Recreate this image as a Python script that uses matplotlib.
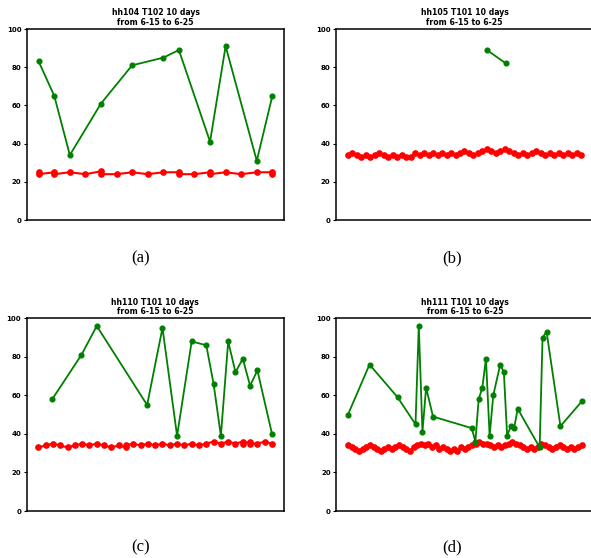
import matplotlib
matplotlib.use("Agg")
from matplotlib import pyplot as plt

# panel titles and captions
titles = ["hh104 T102 10 days\nfrom 6-15 to 6-25",
          "hh105 T101 10 days\nfrom 6-15 to 6-25",
          "hh110 T101 10 days\nfrom 6-15 to 6-25",
          "hh111 T101 10 days\nfrom 6-15 to 6-25"]
captions = ["(a)", "(b)", "(c)", "(d)"]

# (a) hh104
red_x_a = [0, 0, 1, 1, 2, 3, 4, 4, 5, 6, 7, 8, 9, 9, 10, 11, 11, 12, 13, 14, 15, 15]
red_y_a = [25, 24, 25, 24, 25, 24, 25.5, 24, 24, 25, 24, 25, 25, 24, 24, 25, 24, 25, 24, 25, 25, 24]
green_x_a = [0, 1, 2, 4, 6, 8, 9, 11, 12, 14, 15]
green_y_a = [83, 65, 34, 61, 81, 85, 89, 41, 91, 31, 65]

# (b) hh105
red_x_b = list(range(53))
red_y_b = [34, 35, 34, 33, 34, 33, 34, 35, 34, 33, 34, 33, 34, 33, 33, 35, 34, 35,
           34, 35, 34, 35, 34, 35, 34, 35, 36, 35, 34, 35, 36, 37, 36, 35, 36, 37,
           36, 35, 34, 35, 34, 35, 36, 35, 34, 35, 34, 35, 34, 35, 34, 35, 34]
green_x_b = [31, 35.2]
green_y_b = [89, 82]

# (c) hh110
red_x_c = [0, 1, 2, 3, 4, 5, 6, 7, 8, 9, 10, 11, 12, 12, 13, 14, 15, 16, 17, 18, 19,
           20, 21, 22, 23, 24, 25, 26, 27, 28, 28, 29, 29, 30, 31, 32]
red_y_c = [33, 34, 35, 34, 33, 34, 35, 34, 35, 34, 33, 34, 33, 34, 35, 34, 35, 34, 35,
           34, 35, 34, 35, 34, 35, 36, 35, 36, 35, 36, 35, 36, 35, 35, 36, 35]
green_x_c = [1.9, 5.9, 8, 14.9, 17, 19, 21, 23, 24, 25, 26, 27, 28, 29, 30, 32]
green_y_c = [58, 81, 96, 55, 95, 39, 88, 86, 66, 39, 88, 72, 79, 65, 73, 40]

# (d) hh111
red_x_d = list(range(65))
red_y_d = [34, 33, 32, 31, 32, 33, 34, 33, 32, 31, 32, 33, 32, 33, 34, 33, 32, 31,
           33, 34, 35, 34, 35, 33, 34, 32, 33, 32, 31, 32, 31, 33, 32, 33, 34, 35,
           36, 35, 35, 34, 33, 34, 33, 34, 35, 36, 35, 34, 33, 32, 33, 32, 33, 35,
           34, 33, 32, 33, 34, 33, 32, 33, 32, 33, 34]
green_x_d = [0, 5.9, 13.6, 18.5, 19.4, 20.4, 21.4, 23.3, 33.9, 34.9, 35.8, 36.8, 37.8,
             38.8, 39.8, 41.7, 42.7, 43.6, 44.6, 45.5, 46.5, 52.5, 53.3, 54.4, 58.2, 64.1]
green_y_d = [50, 76, 59, 45, 96, 41, 64, 49, 43, 36, 58, 64, 79, 39, 60, 76, 72, 39,
             44, 43, 53, 33, 90, 93, 44, 57]

panels = [(red_x_a, red_y_a, green_x_a, green_y_a),
          (red_x_b, red_y_b, green_x_b, green_y_b),
          (red_x_c, red_y_c, green_x_c, green_y_c),
          (red_x_d, red_y_d, green_x_d, green_y_d)]

fig = plt.figure(figsize=(5.91, 5.58), dpi=100)
rects = [[0.0457, 0.6057, 0.4349, 0.3423],
         [0.5685, 0.6057, 0.4349, 0.3423],
         [0.0451, 0.0842, 0.4349, 0.3454],
         [0.5690, 0.0842, 0.4349, 0.3454]]
cap_pos = [(0.238, 0.537), (0.765, 0.537), (0.238, 0.019), (0.765, 0.019)]

for i, (rx, ry, gx, gy) in enumerate(panels):
    ax = fig.add_axes(rects[i])
    ax.plot(rx, ry, color='red', linewidth=1.5, marker='o', markersize=3.8)
    ax.plot(gx, gy, color='green', linewidth=1.3, marker='o', markersize=3.4)
    # x-axis span follows the red series
    lo, hi = min(rx), max(rx)
    pad = (hi - lo) * 0.05
    ax.set_xlim(lo - pad, hi + pad)
    ax.set_ylim(0, 100)
    ax.set_yticks([0, 20, 40, 60, 80, 100])
    ax.set_xticks([])
    ax.tick_params(axis='y', labelsize=5.0, length=2.5, width=0.8, pad=1.5)
    for lab in ax.get_yticklabels():
        lab.set_fontweight('bold')
    for sp in ax.spines.values():
        sp.set_linewidth(1.1)
    ax.set_title(titles[i], fontsize=5.6, pad=3, linespacing=1.05, fontweight='bold')
    fig.text(cap_pos[i][0], cap_pos[i][1], captions[i], ha='center', va='center',
             fontsize=12, family='Liberation Serif')

plt.savefig("out.png", dpi=100)
